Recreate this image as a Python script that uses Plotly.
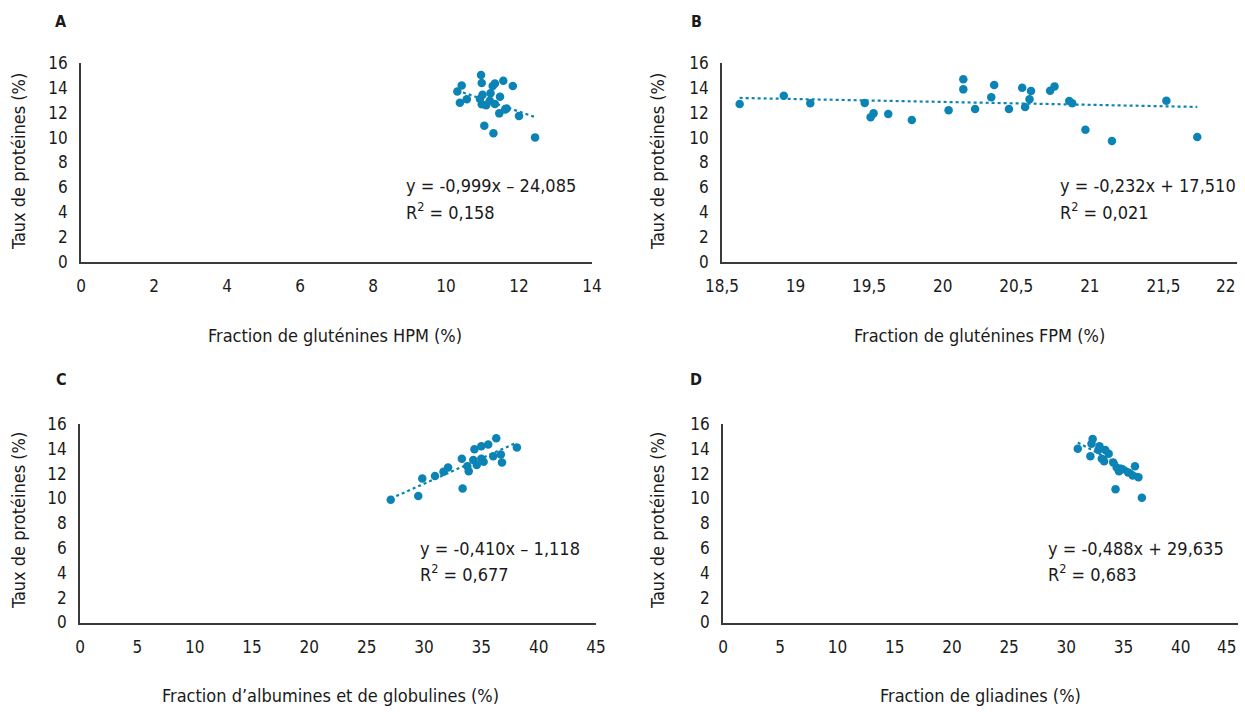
import plotly.graph_objects as go

W, H = 1245, 717
BLUE = "#0B84B5"
FONT = "DejaVu Sans Condensed, Liberation Sans Narrow, Arial Narrow, sans-serif"

# ---------------- data ----------------
a_x = [10.96, 10.98, 10.43, 10.31, 10.38, 10.57, 10.93, 11.0, 10.98, 11.1, 11.2, 11.22, 11.28,
       11.34, 11.57, 11.48, 11.83, 11.34, 11.46, 11.62, 11.66, 12.0, 11.05, 11.3, 12.44]
a_y = [15.03, 14.4, 14.2, 13.7, 12.8, 13.08, 13.1, 13.45, 12.68, 12.6, 12.97, 13.56, 14.15,
       14.36, 14.57, 13.29, 14.15, 12.7, 11.95, 12.27, 12.35, 11.74, 10.96, 10.35, 10.02]

b_x = [18.62, 18.92, 19.10, 19.47, 19.53, 19.51, 19.63, 19.79, 20.04, 20.14, 20.14, 20.22, 20.33,
       20.35, 20.45, 20.54, 20.56, 20.59, 20.60, 20.73, 20.76, 20.86, 20.88, 20.97, 21.15, 21.52, 21.73]
b_y = [12.7, 13.37, 12.76, 12.78, 11.95, 11.63, 11.9, 11.41, 12.2, 14.69, 13.88, 12.3, 13.24,
       14.23, 12.3, 14.01, 12.46, 13.08, 13.75, 13.77, 14.12, 12.94, 12.76, 10.63, 9.73, 12.97, 10.05]

c_x = [27.1, 29.5, 29.85, 30.96, 31.7, 32.1, 33.3, 33.37, 33.78, 33.9, 34.3, 34.4, 34.6,
       35.0, 35.0, 35.2, 35.6, 36.04, 36.3, 36.7, 36.8, 38.1]
c_y = [9.9, 10.2, 11.6, 11.8, 12.15, 12.5, 13.2, 10.8, 12.6, 12.2, 13.1, 13.97, 12.7,
       14.2, 13.2, 12.95, 14.35, 13.4, 14.85, 13.55, 12.9, 14.1]

d_x = [31.0, 32.3, 32.2, 32.9, 32.8, 32.1, 33.4, 33.7, 33.1, 33.3, 34.1, 34.4, 34.6, 34.9,
       34.3, 36.0, 35.4, 35.8, 36.3, 36.6]
d_y = [14.0, 14.8, 14.4, 14.2, 13.9, 13.4, 13.9, 13.6, 13.2, 13.0, 12.9, 12.5, 12.2, 12.35,
       10.75, 12.6, 12.1, 11.85, 11.7, 10.05]

# x tick values per panel, and their labels (decimal comma)
a_ticks = [0, 2, 4, 6, 8, 10, 12, 14]
b_ticks = [18.5, 19, 19.5, 20, 20.5, 21, 21.5, 22]
c_ticks = [0, 5, 10, 15, 20, 25, 30, 35, 40, 45]
d_ticks = [0, 5, 10, 15, 20, 25, 30, 35, 40, 45]
y_ticks = [0, 2, 4, 6, 8, 10, 12, 14, 16]

# regression coefficients (slope, intercept) as read from the equations
fits = {"A": (-0.999, 24.085), "B": (-0.232, 17.510), "C": (0.410, -1.118), "D": (-0.488, 29.635)}
eq_text = {
    "A": ["y = -0,999x – 24,085", "R<sup>2</sup> = 0,158"],
    "B": ["y = -0,232x + 17,510", "R<sup>2</sup> = 0,021"],
    "C": ["y = -0,410x – 1,118", "R<sup>2</sup> = 0,677"],
    "D": ["y = -0,488x + 29,635", "R<sup>2</sup> = 0,683"],
}
x_titles = {
    "A": "Fraction de gluténines HPM (%)",
    "B": "Fraction de gluténines FPM (%)",
    "C": "Fraction d’albumines et de globulines (%)",
    "D": "Fraction de gliadines (%)",
}
y_title = "Taux de protéines (%)"

data = {"A": (a_x, a_y), "B": (b_x, b_y), "C": (c_x, c_y), "D": (d_x, d_y)}
ticks = {"A": a_ticks, "B": b_ticks, "C": c_ticks, "D": d_ticks}

# ---------------- layout geometry (pixels) ----------------
geom = {  # x0, x1, ybottom, ytop
    "A": (81, 592, 262, 63),
    "B": (722, 1237, 262, 63),
    "C": (80, 596, 622.5, 424),
    "D": (723, 1238, 622.5, 424),
}
eq_pos = {"A": (404, 185, 211), "B": (1058, 185, 211), "C": (418, 548, 573), "D": (1046, 548, 573)}
ytitle_pos = {"A": (18, 162), "B": (657, 162), "C": (18, 521), "D": (657, 521)}
xtitle_pos = {"A": (335, 335), "B": (979, 335), "C": (330, 695), "D": (980, 695)}
letter_pos = {"A": (61, 22), "B": (696, 22), "C": (61, 379), "D": (696, 379)}
edge_label = {"B": 286, "D": 646.5}   # panels whose last x label sits against the page edge


def px(x):
    return x / W


def py(y):
    return 1 - y / H


def fmt(v):
    return ("%g" % v).replace(".", ",")


fig = go.Figure()
annotations = []
layout = {}
for i, key in enumerate(["A", "B", "C", "D"]):
    n = "" if i == 0 else str(i + 1)
    xs, ys = data[key]
    m, b = fits[key]
    x0 = min(xs)
    x1 = max(xs)
    fig.add_trace(go.Scatter(x=xs, y=ys, mode="markers", xaxis="x" + n, yaxis="y" + n,
                             marker=dict(color=BLUE, size=8.5, line=dict(width=0)),
                             showlegend=False, hoverinfo="x+y"))
    fig.add_trace(go.Scatter(x=[x0, x1], y=[m * x0 + b, m * x1 + b], mode="lines",
                             xaxis="x" + n, yaxis="y" + n,
                             line=dict(color=BLUE, width=2.2, dash="dot"),
                             showlegend=False, hoverinfo="skip"))
    gx0, gx1, gyb, gyt = geom[key]
    tv = ticks[key]
    shown = tv[:-1] if key in edge_label else tv
    layout["xaxis" + n] = dict(domain=[px(gx0), px(gx1)], range=[tv[0], tv[-1]],
                              tickvals=shown, ticktext=[fmt(v) for v in shown],
                              anchor="y" + n, showline=True, linecolor="#3a3a3a",
                              linewidth=1.6, showgrid=False, zeroline=False, ticks="",
                              ticklabelstandoff=8, automargin=False,
                              tickfont=dict(family=FONT, size=17, color="#1a1a1a"))
    layout["yaxis" + n] = dict(domain=[py(gyb), py(gyt)], range=[y_ticks[0], y_ticks[-1]],
                              tickvals=y_ticks, anchor="x" + n, showline=True, linecolor="#3a3a3a",
                              linewidth=1.6, showgrid=False, zeroline=False, ticks="",
                              ticklabelstandoff=8, automargin=False,
                              tickfont=dict(family=FONT, size=17, color="#1a1a1a"))
    if key in edge_label:
        annotations.append(dict(text=fmt(tv[-1]), x=tv[-1], xref="x" + n,
                                y=py(edge_label[key]), yref="paper", xanchor="right",
                                yanchor="middle", showarrow=False,
                                font=dict(family=FONT, size=17, color="#1a1a1a")))
    ex, ey1, ey2 = eq_pos[key]
    for txt, yy in zip(eq_text[key], (ey1, ey2)):
        annotations.append(dict(text=txt, x=px(ex), y=py(yy), xref="paper", yref="paper",
                                xanchor="left", yanchor="middle", showarrow=False,
                                font=dict(family=FONT, size=18, color="#1a1a1a")))
    tx, ty = ytitle_pos[key]
    annotations.append(dict(text=y_title, x=px(tx), y=py(ty), xref="paper", yref="paper",
                            xanchor="center", yanchor="middle", textangle=-90, showarrow=False,
                            font=dict(family=FONT, size=18, color="#1a1a1a")))
    tx, ty = xtitle_pos[key]
    annotations.append(dict(text=x_titles[key], x=px(tx), y=py(ty), xref="paper", yref="paper",
                            xanchor="center", yanchor="middle", showarrow=False,
                            font=dict(family=FONT, size=18, color="#1a1a1a")))
    lx, ly = letter_pos[key]
    annotations.append(dict(text="<b>" + key + "</b>", x=px(lx), y=py(ly), xref="paper",
                            yref="paper", xanchor="center", yanchor="middle", showarrow=False,
                            font=dict(family=FONT, size=16, color="#1a1a1a")))

fig.update_layout(width=W, height=H, margin=dict(l=0, r=0, t=0, b=0, autoexpand=False),
                  paper_bgcolor="white", plot_bgcolor="white",
                  annotations=annotations, **layout)
fig.write_html("out.html")
